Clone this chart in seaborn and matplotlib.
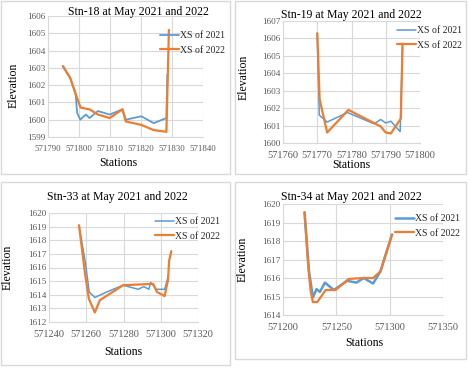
import matplotlib
matplotlib.use('Agg')

import numpy as np
import pandas as pd
import seaborn as sns
import matplotlib.pyplot as plt
from matplotlib.patches import Rectangle

# Stn-18
s18_x21 = [571794.8, 571797.2, 571798.9, 571799.4, 571800.4, 571802.2, 571803.4, 571806.1,
           571809.9, 571814.0, 571815.1, 571820.1, 571824.1, 571828.2, 571828.5]
s18_y21 = [1603.1, 1602.4, 1601.5, 1600.4, 1600.0, 1600.3, 1600.1, 1600.5,
           1600.3, 1600.6, 1600.0, 1600.2, 1599.8, 1600.1, 1602.6]
s18_x22 = [571794.8, 571797.2, 571798.9, 571800.5, 571803.4, 571806.1, 571809.9, 571814.0,
           571815.1, 571820.1, 571824.1, 571828.2, 571829.0]
s18_y22 = [1603.1, 1602.4, 1601.5, 1600.7, 1600.6, 1600.3, 1600.1, 1600.6,
           1599.9, 1599.7, 1599.4, 1599.3, 1605.2]

# Stn-19
s19_x21 = [571770.0, 571770.6, 571772.9, 571778.8, 571786.6, 571788.5, 571790.0, 571791.5,
           571794.2, 571794.9]
s19_y21 = [1606.3, 1601.6, 1601.2, 1601.75, 1601.1, 1601.35, 1601.15, 1601.25,
           1600.65, 1605.5]
s19_x22 = [571770.0, 571770.7, 571772.9, 571779.1, 571788.5, 571790.0, 571791.5, 571794.4, 571794.9]
s19_y22 = [1606.3, 1602.5, 1600.6, 1601.9, 1600.95, 1600.6, 1600.55, 1601.4, 1605.7]

# Stn-33
s33_x21 = [571256.1, 571259.6, 571261.6, 571264.6, 571270.9, 571279.8, 571287.9, 571290.9,
           571293.6, 571294.6, 571297.7, 571302.1, 571303.9]
s33_y21 = [1619.1, 1616.3, 1614.2, 1613.8, 1614.2, 1614.7, 1614.4, 1614.6,
           1614.4, 1614.9, 1614.4, 1614.4, 1615.3]
s33_x22 = [571256.1, 571259.3, 571261.4, 571264.6, 571267.3, 571279.8, 571295.9, 571298.0,
           571302.1, 571303.9, 571304.5, 571305.7]
s33_y22 = [1619.1, 1615.6, 1613.7, 1612.7, 1613.6, 1614.7, 1614.8, 1614.2,
           1613.9, 1615.1, 1616.5, 1617.2]

# Stn-34
s34_x21 = [571220.2, 571224.3, 571228.0, 571231.5, 571234.6, 571239.3, 571247.7, 571260.1,
           571268.8, 571275.7, 571284.4, 571291.3, 571302.2]
s34_y21 = [1619.55, 1616.4, 1614.95, 1615.4, 1615.25, 1615.75, 1615.35, 1615.85,
           1615.75, 1616.0, 1615.7, 1616.35, 1618.35]
s34_x22 = [571220.2, 571223.7, 571225.9, 571228.0, 571232.1, 571235.8, 571239.9, 571249.2,
           571261.7, 571275.7, 571284.4, 571291.3, 571302.2]
s34_y22 = [1619.55, 1616.6, 1615.3, 1614.7, 1614.7, 1615.0, 1615.35, 1615.35,
           1615.95, 1616.0, 1616.0, 1616.35, 1618.35]

W, H = 468, 368
BLUE = '#5b9bd5'
ORANGE = '#ed7d31'

sns.set_style('whitegrid')
plt.rcParams['font.family'] = ['Liberation Serif', 'DejaVu Serif']

fig = plt.figure(figsize=(W / 100, H / 100), dpi=100)

def fx(px):
    return px / W

def fy(py):
    return 1 - py / H

# panel frames
for (x0, y0, x1, y1) in [(1, 1, 230, 174), (235, 1, 466, 174), (1, 182, 230, 365), (235, 182, 466, 359)]:
    fig.patches.append(Rectangle((fx(x0), fy(y1)), (x1 - x0) / W, (y1 - y0) / H,
                                 transform=fig.transFigure, fill=False,
                                 edgecolor='#d9d9d9', lw=1))

panels = [
    dict(name='Stn-18', data=(s18_x21, s18_y21, s18_x22, s18_y22), box=(48, 203, 16, 137),
         xlim=(571790, 571840), xstep=10, ylim=(1599, 1606), ystep=1, lw21=1.3, xfs=6.3,
         title=(138, 12), ylab=(14, 85), xlab=(118, 163), leg=(160, 31)),
    dict(name='Stn-19', data=(s19_x21, s19_y21, s19_x22, s19_y22), box=(283, 420, 21, 143),
         xlim=(571760, 571800), xstep=10, ylim=(1600, 1607), ystep=1, lw21=1.1, xfs=7.5,
         title=(351, 15), ylab=(244, 77), xlab=(351, 165), leg=(397, 26)),
    dict(name='Stn-33', data=(s33_x21, s33_y21, s33_x22, s33_y22), box=(49, 198, 213, 322),
         xlim=(571240, 571320), xstep=20, ylim=(1612, 1620), ystep=1, lw21=1.1, xfs=7.5,
         title=(117, 197), ylab=(8, 267), xlab=(123, 352), leg=(155, 217)),
    dict(name='Stn-34', data=(s34_x21, s34_y21, s34_x22, s34_y22), box=(283, 443, 204, 315),
         xlim=(571200, 571350), xstep=50, ylim=(1614, 1620), ystep=1, lw21=1.8, xfs=7.5,
         title=(351, 197), ylab=(243, 259), xlab=(364, 343), leg=(395, 214)),
]

for p in panels:
    l, r, t, b = p['box']
    ax = fig.add_axes([fx(l), fy(b), (r - l) / W, (b - t) / H])
    x21, y21, x22, y22 = p['data']
    d21 = pd.DataFrame({'Stations': x21, 'Elevation': y21})
    d22 = pd.DataFrame({'Stations': x22, 'Elevation': y22})
    sns.lineplot(data=d21, x='Stations', y='Elevation', sort=False, estimator=None,
                 color=BLUE, lw=p['lw21'], label='XS of 2021', ax=ax)
    sns.lineplot(data=d22, x='Stations', y='Elevation', sort=False, estimator=None,
                 color=ORANGE, lw=1.6, label='XS of 2022', ax=ax)
    ax.set_xlim(*p['xlim'])
    ax.set_ylim(*p['ylim'])
    ax.set_xticks(np.arange(p['xlim'][0], p['xlim'][1] + 1, p['xstep']))
    ax.set_yticks(np.arange(p['ylim'][0], p['ylim'][1] + 1, p['ystep']))
    ax.xaxis.set_major_formatter(matplotlib.ticker.FuncFormatter(lambda v, _: '%d' % v))
    ax.yaxis.set_major_formatter(matplotlib.ticker.FuncFormatter(lambda v, _: '%d' % v))
    ax.tick_params(axis='x', labelsize=p['xfs'], colors='#595959', pad=5.5, length=0)
    ax.tick_params(axis='y', labelsize=6.6, colors='#595959', pad=2, length=0)
    ax.grid(True, color='#d9d9d9', lw=0.8)
    for side in ['top', 'right']:
        ax.spines[side].set_visible(False)
    for side in ['left', 'bottom']:
        ax.spines[side].set_color('#d9d9d9')
        ax.spines[side].set_linewidth(0.8)
    ax.set_xlabel('')
    ax.set_ylabel('')
    ax.legend(loc='upper left', bbox_to_anchor=(fx(p['leg'][0]), fy(p['leg'][1])),
              bbox_transform=fig.transFigure, frameon=False, fontsize=7,
              handlelength=2.0, handletextpad=0.1, labelspacing=0.6,
              borderpad=0, borderaxespad=0)
    fig.text(fx(p['title'][0]), fy(p['title'][1]), p['name'] + ' at May 2021 and 2022',
             ha='center', va='center', fontsize=8.5, color='black')
    fig.text(fx(p['ylab'][0]), fy(p['ylab'][1]), 'Elevation', rotation=90,
             ha='center', va='center', fontsize=8.5, color='black')
    fig.text(fx(p['xlab'][0]), fy(p['xlab'][1]), 'Stations',
             ha='center', va='center', fontsize=8.5, color='black')

fig.savefig('out.png', dpi=100)
